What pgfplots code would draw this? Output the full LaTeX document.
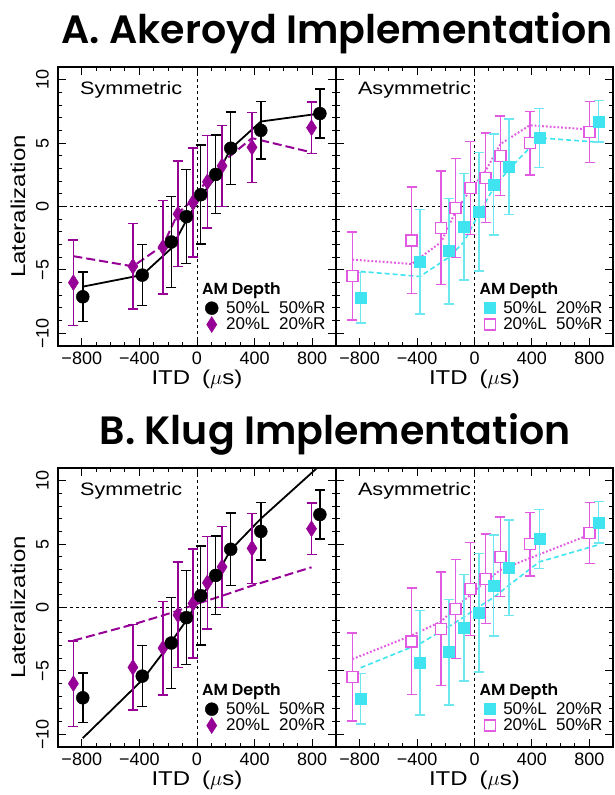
\documentclass[border=0pt]{standalone}
\usepackage{fontspec}
\usepackage{pgfplots}
\pgfplotsset{compat=1.18}
\usepackage{pgfplotstable}
\setmainfont{Liberation Sans}
\newfontfamily\axfont{Liberation Sans}
\newfontfamily\axfontw{Liberation Sans}[FakeStretch=1.2]
\newfontfamily\titlefont{Poppins}[BoldFont={* SemiBold}]
\definecolor{purp}{RGB}{150,0,150}
\definecolor{cyanS}{RGB}{64,228,240}
\definecolor{cyanE}{RGB}{110,232,240}
\definecolor{magS}{RGB}{225,90,225}

% ---------------- data ----------------
\pgfplotstableread{
x y e
-793 -7.12 1.96
-380 -5.41 2.40
-178 -2.80 3.60
-74 -0.80 3.70
26 0.93 3.90
130 2.53 3.10
234 4.59 2.85
443 6.00 2.27
853 7.33 1.92
}\symBlack
\pgfplotstableread{
x y e
-858 -6.00 3.37
-445 -4.72 3.37
-236 -3.20 3.69
-132 -0.59 4.16
-28 0.32 4.31
72 1.95 3.63
174 3.20 3.20
382 4.67 2.76
795 6.21 2.03
}\symPurp
\pgfplotstableread{
x y e
-793 -7.20 2.00
-380 -4.35 4.13
-178 -3.52 4.17
-74 -1.60 4.20
30 -0.40 4.67
134 1.73 3.97
239 3.12 3.77
452 5.39 2.33
865 6.72 1.64
}\asyCyan
\pgfplotstableread{
x y e
-851 -5.47 3.47
-438 -2.67 4.20
-232 -1.68 4.47
-132 -0.13 3.90
-28 1.47 3.67
77 2.27 3.53
181 4.00 3.13
385 4.99 2.50
802 5.87 2.40
}\asyMag
% Akeroyd model lines
\pgfplotstableread{
x y
-793 -6.32
-380 -5.40
-178 -3.30
-74 -1.10
26 0.80
130 2.30
234 4.55
443 6.70
853 7.33
}\akBlack
\pgfplotstableread{
x y
-858 -3.92
-445 -4.72
-236 -3.07
-132 -0.53
-28 0.53
72 2.13
174 3.47
382 5.39
795 4.27
}\akPurp
\pgfplotstableread{
x y
-793 -5.12
-380 -5.52
-178 -4.00
-74 -2.80
30 -0.59
134 1.47
239 2.93
452 5.41
865 5.07
}\akCyan
\pgfplotstableread{
x y
-851 -4.19
-438 -4.53
-232 -2.80
-132 -0.40
-28 1.33
77 2.80
181 4.93
385 6.40
802 6.08
}\akMag
% Klug model lines
\pgfplotstableread{
x y
-793 -10.30
-380 -5.72
-178 -2.70
-74 -1.02
26 0.84
130 2.43
234 4.55
443 7.00
853 11.20
}\klBlack
\pgfplotstableread{
x y
-858 -2.61
-445 -1.34
-236 -0.62
-132 -0.25
-28 0.18
72 0.55
174 0.92
382 1.72
795 3.17
}\klPurp
\pgfplotstableread{
x y
-793 -4.75
-380 -2.85
-178 -1.50
-74 -0.75
30 0.05
134 0.80
239 1.75
452 3.60
865 4.95
}\klCyan
\pgfplotstableread{
x y
-851 -4.07
-438 -2.21
-232 -1.10
-132 0.00
-28 1.00
77 2.10
181 2.96
385 3.89
802 5.74
}\klMag

\pgfplotsset{
  panel/.style={
    scale only axis, width=278pt, height=279pt,
    xmin=-965, xmax=965, ymin=-11, ymax=11,
    xtick={-800,-400,0,400,800},
    ytick={-10,-5,0,5,10},
    minor x tick num=3, minor y tick num=4,
    tick align=inside, tick pos=both,
    major tick length=8pt, minor tick length=4pt,
    axis line style={line width=1.2pt},
    every tick/.append style={black, line width=1pt},
    tick label style={font=\axfont\fontsize{18}{18}\selectfont},
    xticklabels={−800,−400,0,400,800},
    yticklabels={−10,−5,0,5,10},
    xticklabel style={anchor=north, inner sep=0pt, yshift=-6pt},
    yticklabel style={rotate=90, anchor=south, inner sep=9pt},
    xlabel={ITD\hspace{12pt}($\mu$s)},
    xlabel style={font=\axfontw\fontsize{20}{20}\selectfont, at={(axis description cs:0.5,-0.12)}, anchor=center},
    ylabel style={font=\axfontw\fontsize{20}{20}\selectfont, at={(axis description cs:-0.144,0.5)}, anchor=center},
    legend style={draw=none, fill=none, inner sep=0pt, font=\axfont\fontsize{17}{17}\selectfont,
      at={(rel axis cs:0.97,0.045)}, anchor=south east, row sep=-1pt, column sep=6pt},
    legend cell align=left,
  },
  errb/.style={/pgfplots/error bars/.cd, y dir=both, y explicit,
    error bar style={line width=1.5pt,#1},
    error mark options={rotate=90, mark size=5pt, line width=1.5pt,#1}, /pgfplots/.cd},
  errb/.default={},
}
\newcommand{\zerolines}{%
  \addplot[forget plot, black, line width=0.7pt, dash pattern=on 3pt off 3pt] coordinates {(-965,0) (965,0)};
  \addplot[forget plot, black, line width=0.7pt, dash pattern=on 3pt off 3pt] coordinates {(0,-11) (0,11)};
}
\newcommand{\paneltitle}[1]{\node[anchor=west, font=\axfontw\fontsize{18}{18}\selectfont, inner sep=0pt] at (rel axis cs:0.079,0.918) {#1};}
\newcommand{\amdepth}{\node[anchor=west, font=\titlefont\bfseries\fontsize{16}{16}\selectfont, inner sep=0pt] at (rel axis cs:0.518,0.2) {AM Depth};}

\newcommand{\symplots}{%
  \addlegendimage{only marks, mark=*, mark size=6.5pt, black}
  \addlegendentry{50\%L\ \ 50\%R}
  \addlegendimage{only marks, mark=diamond*, mark size=8pt, purp, mark options={xscale=0.85}}
  \addlegendentry{20\%L\ \ 20\%R}
  \addplot[forget plot, only marks, mark=diamond*, mark size=8pt, purp, mark options={xscale=0.85}, errb] table[x=x,y=y,y error=e]{\symPurp};
  \addplot[forget plot, only marks, mark=*, mark size=6.5pt, black, errb] table[x=x,y=y,y error=e]{\symBlack};
}
\newcommand{\asyplots}{%
  \addlegendimage{only marks, mark=square*, mark size=5.5pt, cyanS}
  \addlegendentry{50\%L\ \ 20\%R}
  \addlegendimage{only marks, mark=square*, mark size=5.5pt, magS, mark options={fill=white, line width=1.4pt}}
  \addlegendentry{20\%L\ \ 50\%R}
  \addplot[forget plot, only marks, mark=square*, mark size=5.5pt, magS, mark options={fill=white, line width=1.4pt}, errb] table[x=x,y=y,y error=e]{\asyMag};
  \addplot[forget plot, only marks, mark=square*, mark size=5.5pt, cyanS, errb={cyanE}] table[x=x,y=y,y error=e]{\asyCyan};
}

\begin{document}
\begin{tikzpicture}[x=1pt,y=1pt]
\useasboundingbox (0,0) rectangle (614,795);

\node[anchor=base, font=\titlefont\bfseries\fontsize{39.5}{40}\selectfont, inner sep=0pt] at (337,751) {A. Akeroyd Implementation};
\node[anchor=base, font=\titlefont\bfseries\fontsize{39.5}{40}\selectfont, inner sep=0pt] at (335,350) {B. Klug Implementation};

% ---- A left
\begin{axis}[panel, at={(58pt,449pt)}, anchor=south west, ylabel={Lateralization}]
\zerolines
\addplot[forget plot, black, line width=1.8pt] table[x=x,y=y]{\akBlack};
\addplot[forget plot, purp, line width=2pt, dash pattern=on 9pt off 4pt] table[x=x,y=y]{\akPurp};
\symplots
\paneltitle{Symmetric}
\amdepth
\end{axis}
% ---- A right
\begin{axis}[panel, width=277pt, at={(336pt,449pt)}, anchor=south west, yticklabels={}]
\zerolines
\addplot[forget plot, cyanS, line width=1.6pt, dash pattern=on 5pt off 3pt] table[x=x,y=y]{\akCyan};
\addplot[forget plot, magS, line width=2pt, dash pattern=on 1.8pt off 2pt] table[x=x,y=y]{\akMag};
\asyplots
\paneltitle{Asymmetric}
\amdepth
\end{axis}
% ---- B left
\begin{axis}[panel, at={(58pt,48pt)}, anchor=south west, ylabel={Lateralization}]
\zerolines
\addplot[forget plot, black, line width=1.8pt] table[x=x,y=y]{\klBlack};
\addplot[forget plot, purp, line width=2pt, dash pattern=on 9pt off 4pt] table[x=x,y=y]{\klPurp};
\symplots
\paneltitle{Symmetric}
\amdepth
\end{axis}
% ---- B right
\begin{axis}[panel, width=277pt, at={(336pt,48pt)}, anchor=south west, yticklabels={}]
\zerolines
\addplot[forget plot, cyanS, line width=1.6pt, dash pattern=on 5pt off 3pt] table[x=x,y=y]{\klCyan};
\addplot[forget plot, magS, line width=2pt, dash pattern=on 1.8pt off 2pt] table[x=x,y=y]{\klMag};
\asyplots
\paneltitle{Asymmetric}
\amdepth
\end{axis}
\end{tikzpicture}
\end{document}
